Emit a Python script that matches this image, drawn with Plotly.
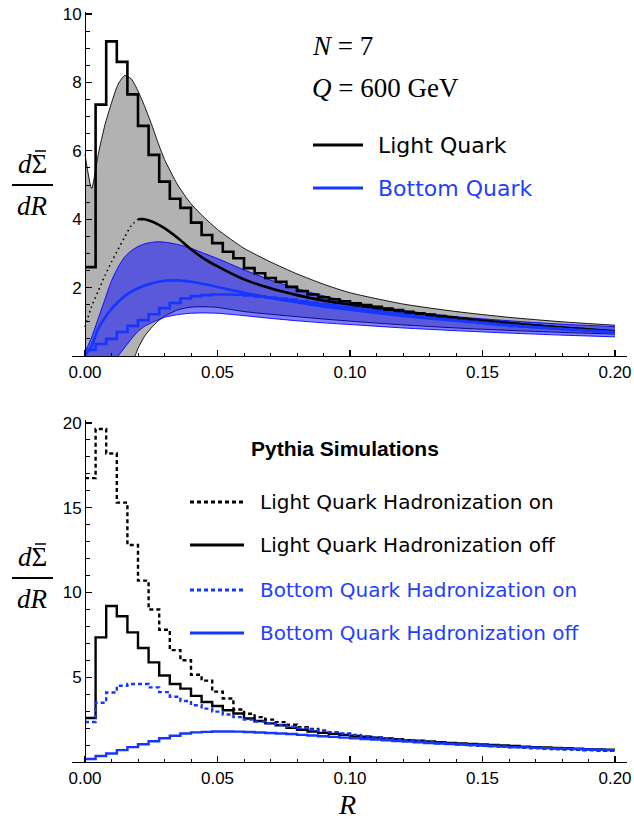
import numpy as np
import plotly.graph_objects as go

# ---------------- data ----------------
R_GRID = [0, 0.0025, 0.005, 0.0075, 0.01, 0.0125, 0.015, 0.0175, 0.02, 0.0225, 0.025,
          0.0275, 0.03, 0.035, 0.04, 0.045, 0.05, 0.06, 0.07, 0.08, 0.09, 0.10,
          0.12, 0.14, 0.16, 0.18, 0.20]

LQ_BAND_UPPER = [5.9, 4.9, 5.9, 6.75, 7.4, 7.95, 8.2, 8.1, 7.75, 7.3, 6.8, 6.25, 5.75,
                 5.0, 4.45, 4.05, 3.7, 3.15, 2.75, 2.4, 2.1, 1.85, 1.52, 1.3, 1.13, 1.0, 0.9]
LQ_BAND_LOWER = [-4.0, -3.5, -3.0, -2.5, -2.0, -1.45, -0.9, -0.3, 0.22, 0.58, 0.82, 1.02,
                 1.16, 1.35, 1.43, 1.44, 1.42, 1.3, 1.22, 1.15, 1.08, 1.02, 0.91, 0.82,
                 0.75, 0.69, 0.64]
BQ_BAND_UPPER = [0.12, 0.55, 1.1, 1.65, 2.2, 2.6, 2.9, 3.08, 3.2, 3.28, 3.32, 3.34, 3.33,
                 3.26, 3.15, 3.0, 2.85, 2.52, 2.22, 1.97, 1.76, 1.58, 1.33, 1.15, 1.03,
                 0.93, 0.86]
BQ_BAND_LOWER = [-1.5, -1.2, -0.9, -0.6, -0.3, 0.0, 0.25, 0.5, 0.72, 0.87, 0.97, 1.05,
                 1.13, 1.21, 1.25, 1.26, 1.25, 1.18, 1.1, 1.03, 0.97, 0.92, 0.82, 0.74,
                 0.67, 0.61, 0.56]
LQ_CENTRAL = [0.85, 1.45, 1.9, 2.35, 2.75, 3.12, 3.48, 3.82, 4.0, 4.0, 3.94, 3.85, 3.74,
              3.45, 3.12, 2.84, 2.62, 2.24, 1.98, 1.78, 1.62, 1.5, 1.28, 1.1, 0.96, 0.83,
              0.72]
LQ_DOTTED_END = 0.02
BQ_CENTRAL = [0.0, 0.3, 0.8, 1.12, 1.38, 1.58, 1.75, 1.88, 1.98, 2.06, 2.12, 2.17, 2.2,
              2.21, 2.17, 2.1, 2.02, 1.85, 1.7, 1.57, 1.45, 1.35, 1.17, 1.03, 0.9, 0.79,
              0.7]

BIN_WIDTH = 0.004
LQ_HAD_OFF = [2.6, 7.35, 9.2, 8.6, 7.65, 6.73, 5.88, 5.1, 4.6, 4.33, 3.9, 3.54, 3.3, 3.05,
              2.86, 2.57, 2.42, 2.28, 2.17, 2.02, 1.9, 1.8, 1.72, 1.66, 1.6, 1.54, 1.49,
              1.44, 1.39, 1.34, 1.29, 1.25, 1.21, 1.17, 1.13, 1.09, 1.06, 1.03, 1.0, 0.97,
              0.94, 0.91, 0.88, 0.86, 0.83, 0.81, 0.79, 0.76, 0.74, 0.72]
LQ_HAD_ON = [16.75, 19.65, 18.2, 15.3, 12.8, 10.7, 9.0, 7.8, 6.6, 6.0, 5.15, 4.8, 4.15,
             3.75, 3.1, 2.85, 2.65, 2.5, 2.35, 2.2, 2.05, 1.95, 1.85, 1.75, 1.66, 1.58,
             1.5, 1.43, 1.37, 1.31, 1.26, 1.21, 1.16, 1.12, 1.08, 1.04, 1.0, 0.97, 0.94,
             0.91, 0.88, 0.85, 0.82, 0.8, 0.77, 0.75, 0.72, 0.7, 0.68, 0.66]
BQ_HAD_ON = [2.36, 3.5, 4.1, 4.5, 4.6, 4.6, 4.4, 4.12, 3.85, 3.6, 3.35, 3.15, 2.97, 2.8,
             2.65, 2.5, 2.38, 2.28, 2.18, 2.08, 2.0, 1.92, 1.84, 1.76, 1.68, 1.6, 1.52,
             1.45, 1.39, 1.33, 1.27, 1.22, 1.17, 1.12, 1.08, 1.04, 1.0, 0.97, 0.94, 0.91,
             0.88, 0.85, 0.82, 0.8, 0.77, 0.75, 0.73, 0.71, 0.69, 0.67]
BQ_HAD_OFF = [0.18, 0.35, 0.5, 0.7, 0.88, 1.05, 1.22, 1.4, 1.55, 1.68, 1.75, 1.78, 1.8,
              1.8, 1.79, 1.77, 1.74, 1.71, 1.68, 1.65, 1.6, 1.56, 1.52, 1.48, 1.44, 1.4,
              1.36, 1.32, 1.28, 1.24, 1.2, 1.16, 1.12, 1.09, 1.06, 1.03, 1.0, 0.97, 0.94,
              0.91, 0.88, 0.86, 0.84, 0.82, 0.8, 0.78, 0.76, 0.74, 0.72, 0.7]

X_TICKS = [0.0, 0.05, 0.10, 0.15, 0.20]
X_TICK_LABELS = ["0.00", "0.05", "0.10", "0.15", "0.20"]
Y1_TICKS = [2, 4, 6, 8, 10]
Y2_TICKS = [5, 10, 15, 20]

# ---------------- styling / layout helpers ----------------
W, H = 634, 825
BLACK = "#000000"
BLUE = "#1436ff"
BLUE_TEXT = "#1f3fff"
GRAY_FILL = "rgb(178,178,178)"
BLUE_FILL = "rgba(0,0,255,0.5)"
SERIF = "Liberation Serif"
SANS = "Liberation Sans"
LEG = "DejaVu Sans"


def fx(p):
    return p / W


def fy(p):
    return 1 - p / H


X0_PX, PX_PER_UNIT_X = 85, 2650.0
X_LEFT_PX, X_RIGHT_PX = 72, 627
x_range = [(X_LEFT_PX - X0_PX) / PX_PER_UNIT_X, (X_RIGHT_PX - X0_PX) / PX_PER_UNIT_X]

edges = list(np.round(np.arange(len(LQ_HAD_OFF) + 1) * BIN_WIDTH, 6))


def step(vals):
    return edges, list(vals) + [vals[-1]]


fig = go.Figure()

# ---- top panel ----
fig.add_trace(go.Scatter(x=R_GRID, y=LQ_BAND_LOWER, mode="lines", xaxis="x", yaxis="y",
                         line=dict(color=BLACK, width=0.9, shape="spline", smoothing=0.6),
                         showlegend=False, hoverinfo="skip"))
fig.add_trace(go.Scatter(x=R_GRID, y=LQ_BAND_UPPER, mode="lines", xaxis="x", yaxis="y",
                         fill="tonexty", fillcolor=GRAY_FILL,
                         line=dict(color=BLACK, width=0.9, shape="spline", smoothing=0.6),
                         showlegend=False, hoverinfo="skip"))
fig.add_trace(go.Scatter(x=R_GRID, y=BQ_BAND_LOWER, mode="lines", xaxis="x", yaxis="y",
                         line=dict(color="#0000ff", width=0.9, shape="spline", smoothing=0.6),
                         showlegend=False, hoverinfo="skip"))
fig.add_trace(go.Scatter(x=R_GRID, y=BQ_BAND_UPPER, mode="lines", xaxis="x", yaxis="y",
                         fill="tonexty", fillcolor=BLUE_FILL,
                         line=dict(color="#0000ff", width=0.9, shape="spline", smoothing=0.6),
                         showlegend=False, hoverinfo="skip"))

hx, hy = step(LQ_HAD_OFF)
fig.add_trace(go.Scatter(x=hx, y=hy, mode="lines", xaxis="x", yaxis="y",
                         line=dict(color=BLACK, width=2.6, shape="hv"), showlegend=False))

dot_x = [r for r in R_GRID if r <= LQ_DOTTED_END]
dot_y = [v for r, v in zip(R_GRID, LQ_CENTRAL) if r <= LQ_DOTTED_END]
sol_x = [r for r in R_GRID if r >= LQ_DOTTED_END]
sol_y = [v for r, v in zip(R_GRID, LQ_CENTRAL) if r >= LQ_DOTTED_END]
fig.add_trace(go.Scatter(x=dot_x, y=dot_y, mode="lines", xaxis="x", yaxis="y",
                         line=dict(color=BLACK, width=1.6, dash="1.5px,3.5px",
                                   shape="spline", smoothing=0.6), showlegend=False))
fig.add_trace(go.Scatter(x=sol_x, y=sol_y, mode="lines", xaxis="x", yaxis="y",
                         line=dict(color=BLACK, width=2.6, shape="spline", smoothing=0.6),
                         showlegend=False))
fig.add_trace(go.Scatter(x=R_GRID, y=BQ_CENTRAL, mode="lines", xaxis="x", yaxis="y",
                         line=dict(color=BLUE, width=2.6, shape="spline", smoothing=0.6),
                         showlegend=False))
hx, hy = step(BQ_HAD_OFF)
fig.add_trace(go.Scatter(x=hx, y=hy, mode="lines", xaxis="x", yaxis="y",
                         line=dict(color=BLUE, width=2.6, shape="hv"), showlegend=False))

# ---- bottom panel ----
for vals, color, dash in [(LQ_HAD_ON, BLACK, "4px,3px"), (LQ_HAD_OFF, BLACK, "solid"),
                          (BQ_HAD_ON, BLUE, "4px,3px"), (BQ_HAD_OFF, BLUE, "solid")]:
    hx, hy = step(vals)
    fig.add_trace(go.Scatter(x=hx, y=hy, mode="lines", xaxis="x2", yaxis="y2",
                             line=dict(color=color, width=2.4, shape="hv", dash=dash),
                             showlegend=False))

# ---------------- axes ----------------
axis_common = dict(showline=True, linecolor=BLACK, linewidth=1.3, ticks="inside",
                   tickcolor=BLACK, tickwidth=1.2, showgrid=False, zeroline=False,
                   automargin=False,
                   tickfont=dict(family=SANS, size=17, color=BLACK))

TOP_AX_PX, TOP_TOP_PX, TOP_UNIT = 356, 12, 34.2
BOT_AX_PX, BOT_TOP_PX, BOT_UNIT = 762, 420, 16.95

fig.update_layout(
    width=W, height=H, margin=dict(l=0, r=0, t=0, b=0, autoexpand=False),
    paper_bgcolor="white", plot_bgcolor="rgba(0,0,0,0)", showlegend=False,
    xaxis=dict(domain=[fx(X_LEFT_PX), fx(X_RIGHT_PX)], range=x_range, anchor="y",
               tickvals=X_TICKS, ticktext=X_TICK_LABELS, ticklen=6,
               minor=dict(dtick=0.01, tick0=0, ticks="inside", ticklen=3.5,
                          tickcolor=BLACK, tickwidth=1), **axis_common),
    yaxis=dict(domain=[fy(TOP_AX_PX), fy(TOP_TOP_PX)],
               range=[0, (TOP_AX_PX - TOP_TOP_PX) / TOP_UNIT], anchor="free",
               position=fx(X0_PX), tickvals=Y1_TICKS, ticklen=6,
               minor=dict(dtick=0.5, tick0=0, ticks="inside", ticklen=3.5,
                          tickcolor=BLACK, tickwidth=1), **axis_common),
    xaxis2=dict(domain=[fx(X_LEFT_PX), fx(X_RIGHT_PX)], range=x_range, anchor="y2",
                tickvals=X_TICKS, ticktext=X_TICK_LABELS, ticklen=6,
                minor=dict(dtick=0.01, tick0=0, ticks="inside", ticklen=3.5,
                           tickcolor=BLACK, tickwidth=1), **axis_common),
    yaxis2=dict(domain=[fy(BOT_AX_PX), fy(BOT_TOP_PX)],
                range=[0, (BOT_AX_PX - BOT_TOP_PX) / BOT_UNIT], anchor="free",
                position=fx(X0_PX), tickvals=Y2_TICKS, ticklen=6,
                minor=dict(dtick=1, tick0=0, ticks="inside", ticklen=3.5,
                           tickcolor=BLACK, tickwidth=1), **axis_common),
)

# ---------------- text & legend keys ----------------
ann = []
shapes = []


def text(x, y, s, size, family, color=BLACK, xanchor="left"):
    ann.append(dict(x=fx(x), y=fy(y), xref="paper", yref="paper", text=s, showarrow=False,
                    xanchor=xanchor, yanchor="middle",
                    font=dict(family=family, size=size, color=color)))


def key(x0, x1, y, color, dash="solid", width=3):
    shapes.append(dict(type="line", xref="paper", yref="paper", x0=fx(x0), x1=fx(x1),
                       y0=fy(y), y1=fy(y), line=dict(color=color, width=width, dash=dash)))


# y-axis fraction labels (d Sigma-bar / dR)
for bar_y in (185, 578):
    text(32, bar_y - 21, "<i>d</i>\u03a3", 27, SERIF, xanchor="center")
    key(35, 46, bar_y - 34, BLACK, width=1.5)          # bar over Sigma
    text(32, bar_y + 21, "<i>dR</i>", 27, SERIF, xanchor="center")
    key(12, 53, bar_y, BLACK, width=1.8)

text(347, 804, "<i>R</i>", 28, SERIF, xanchor="center")

text(310, 46, "<i>N</i> = 7", 27, SERIF)
text(310, 88, "<i>Q</i> = 600 GeV", 27, SERIF)
key(313, 363, 145, BLACK)
key(313, 363, 188, BLUE)
text(376, 145, "Light Quark", 22, LEG)
text(376, 188, "Bottom Quark", 22, LEG, color=BLUE_TEXT)

text(345, 449, "<b>Pythia Simulations</b>", 21, SANS, xanchor="center")
legend_rows = [(502, BLACK, "4px,3px", "Light Quark Hadronization on", BLACK),
               (545, BLACK, "solid", "Light Quark Hadronization off", BLACK),
               (590, BLUE, "4px,3px", "Bottom Quark Hadronization on", BLUE_TEXT),
               (633, BLUE, "solid", "Bottom Quark Hadronization off", BLUE_TEXT)]
for y, lc, dash, label, tc in legend_rows:
    key(190, 244, y, lc, dash=dash)
    text(258, y, label, 20, LEG, color=tc)

fig.update_layout(annotations=ann, shapes=shapes)
fig.write_html("out.html",
               config={"displayModeBar": False, "staticPlot": True},
               post_script="document.body.style.margin='0';"
                           "document.body.style.overflow='hidden';")
